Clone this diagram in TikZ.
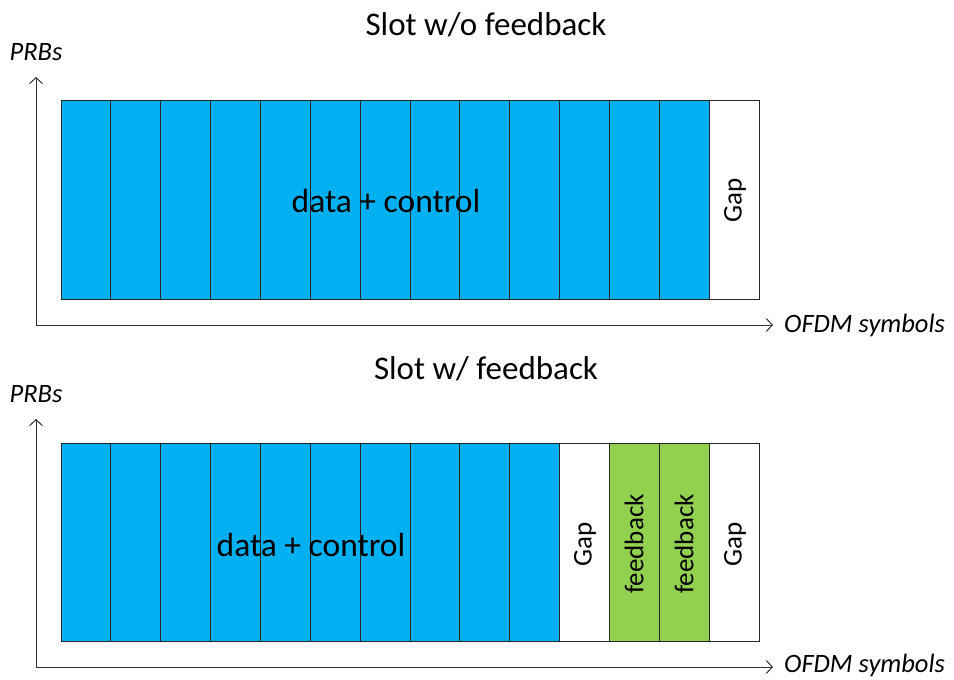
\documentclass[tikz,border=0pt]{standalone}
\usepackage{fontspec}
\setmainfont{Carlito}
\usetikzlibrary{arrows.meta}
\definecolor{slotblue}{HTML}{00B0F0}
\definecolor{slotgreen}{HTML}{92D050}
\begin{document}
\begin{tikzpicture}[x=1pt,y=-1pt,
  cell/.style={draw=black!85,line width=1pt},
  axis/.style={draw=black!80,line width=1pt,-{Straight Barb[length=6pt,width=13pt]}},
  axlabel/.style={font=\fontsize{26.5}{30}\selectfont\itshape,inner sep=0pt},
  title/.style={font=\fontsize{33}{38}\selectfont},
  inlabel/.style={font=\fontsize{33.5}{38}\selectfont},
  vlabel/.style={font=\fontsize{27}{31}\selectfont,rotate=90}]
\useasboundingbox (0,0) rectangle (954,680);
% ---------- top ----------
\node[title] (t1) at (486,25) {Slot w/o feedback};
\coordinate (o1) at (36,325);
\coordinate (y1) at (36,77);
\coordinate (x1) at (773,325);
\draw[axis] (o1) -- (y1);
\draw[axis] (o1) -- (x1);
\node[axlabel] (p1) at (36,52) {PRBs};
\node[axlabel,anchor=west] (s1) at (784,325) {OFDM symbols};
\foreach \i in {0,...,12}{
  \draw[cell,fill=slotblue] ({61+49.857*\i},100) rectangle ({61+49.857*(\i+1)},299);
}
\draw[cell,fill=white] (709,100) rectangle (759,299);
\node[inlabel] (d1) at (386,201) {data + control};
\node[vlabel] (g1) at (735,200) {Gap};
% ---------- bottom ----------
\node[title] (t2) at (486,369) {Slot w/ feedback};
\coordinate (o2) at (36,667);
\coordinate (y2) at (36,419);
\coordinate (x2) at (773,667);
\draw[axis] (o2) -- (y2);
\draw[axis] (o2) -- (x2);
\node[axlabel] (p2) at (36,394) {PRBs};
\node[axlabel,anchor=west] (s2) at (784,665) {OFDM symbols};
\foreach \i in {0,...,9}{
  \draw[cell,fill=slotblue] ({61+49.857*\i},443) rectangle ({61+49.857*(\i+1)},641);
}
\draw[cell,fill=white] (559.6,443) rectangle (609.4,641);
\draw[cell,fill=slotgreen] (609.4,443) rectangle (659.3,641);
\draw[cell,fill=slotgreen] (659.3,443) rectangle (709.1,641);
\draw[cell,fill=white] (709.1,443) rectangle (759,641);
\node[inlabel] (d2) at (311,545) {data + control};
\node[vlabel] (g2) at (585,544) {Gap};
\node[vlabel] (f1) at (634,544) {feedback};
\node[vlabel] (f2) at (684,544) {feedback};
\node[vlabel] (g3) at (735,544) {Gap};
\end{tikzpicture}
\end{document}
